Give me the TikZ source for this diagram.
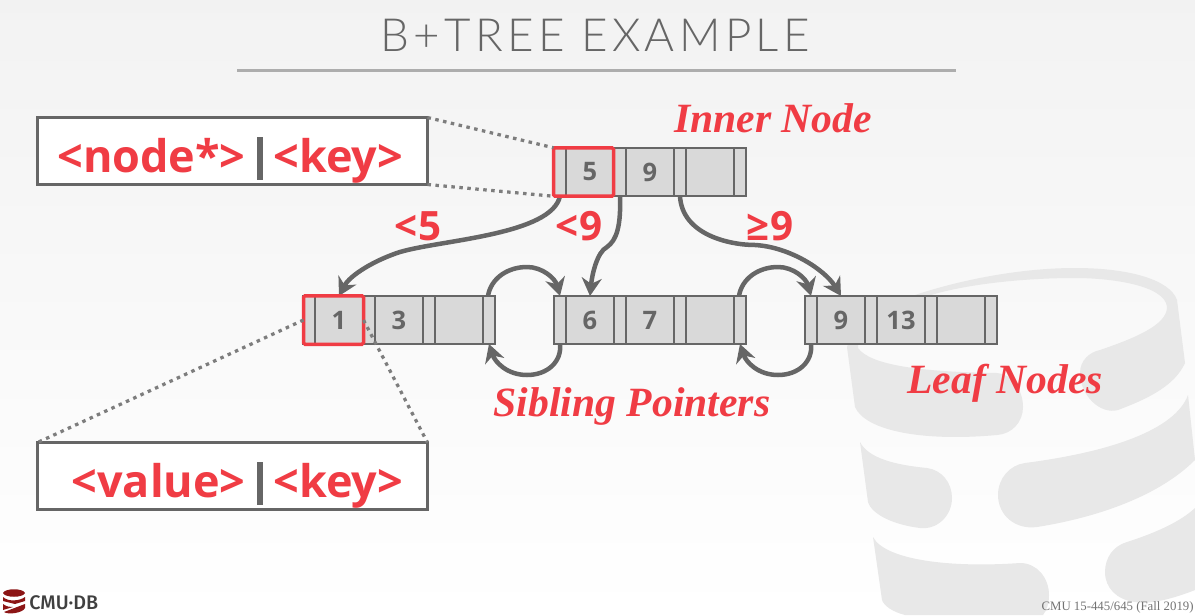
\documentclass[tikz,border=0pt]{standalone}
\usepackage{fontspec}
\usepackage{tikz}
\usetikzlibrary{positioning}
\usetikzlibrary{arrows.meta}
\setmainfont{Open Sans}
\newfontfamily\titlefont[LetterSpace=9.5]{Lato Light}
\newfontfamily\notefont{Liberation Serif}
\definecolor{slidered}{HTML}{F03C44}
\definecolor{slidegray}{HTML}{666666}
\definecolor{cellgray}{HTML}{D9D9D9}
\definecolor{markgray}{HTML}{E8E8E8}
\definecolor{logored}{HTML}{8C1515}

\tikzset{
    ptrcell/.style = {draw = slidegray, fill = cellgray, line width = 0.05cm, inner sep = 0pt, outer sep = 0pt,
        minimum width = 0.24cm, minimum height = 0.96cm},
    keycell/.style = {ptrcell, minimum width = 0.96cm, text = slidegray,
        font = \fontsize{14.5}{14.5}\selectfont\bfseries},
    redmark/.style = {draw = slidered, line width = 0.07cm, rounded corners = 0.03cm, inner sep = 0pt, outer sep = 0pt,
        minimum width = 1.2cm, minimum height = 0.97cm},
    entrybox/.style = {draw = slidegray, fill = white, line width = 0.065cm, inner sep = 0pt, outer sep = 0pt,
        minimum width = 7.8cm, minimum height = 1.34cm},
    entrytext/.style = {text = slidered, inner sep = 0pt, font = \fontsize{25.6}{25.6}\selectfont\bfseries},
    bartext/.style = {fill = slidegray, inner sep = 0pt, minimum width = 0.11cm, minimum height = 0.86cm},
    bound/.style = {text = slidered, inner sep = 0pt, font = \fontsize{23}{23}\selectfont\bfseries},
    note/.style = {text = slidered, inner sep = 0pt, font = \fontsize{23.7}{23.7}\selectfont\notefont\bfseries\itshape},
    pointer/.style = {draw = slidegray, line width = 0.09cm, -{Stealth[length = 0.36cm, width = 0.4cm]}},
    guide/.style = {draw = slidegray!85, line width = 0.065cm, dash pattern = on 0.07cm off 0.09cm},
    wmark/.style = {fill = markgray, draw = none},
}

% one tree node: four pointers and three key slots, chained left to right
\newcommand{\treenode}[5]{
    \node[ptrcell, anchor = west] (#1p1) at (#2,#3) {};
    \node[keycell, right = 0pt of #1p1] (#1k1) {#4};
    \node[ptrcell, right = 0pt of #1k1] (#1p2) {};
    \node[keycell, right = 0pt of #1p2] (#1k2) {#5};
    \node[ptrcell, right = 0pt of #1k2] (#1p3) {};
    \node[keycell, right = 0pt of #1p3] (#1k3) {};
    \node[ptrcell, right = 0pt of #1k3] (#1p4) {};
}

\begin{document}
\begin{tikzpicture}[x = 0.02cm, y = -0.02cm]
    \useasboundingbox (0,0) rectangle (1195,615);
    \fill[top color = black!5, bottom color = white] (0,0) rectangle (1195,615);

    % database drum behind the nodes
    \fill[wmark] (847,347) .. controls (860,310) and (900,300) .. (915,295)
        .. controls (960,280) and (1020,268) .. (1075,268)
        .. controls (1130,268) and (1170,280) .. (1177,300) -- (1185,363)
        .. controls (1175,385) and (1150,398) .. (1118,410)
        .. controls (1100,415) and (1080,395) .. (1080,373)
        .. controls (1080,360) and (1090,352) .. (1100,350)
        .. controls (1135,338) and (1167,325) .. (1167,307)
        .. controls (1165,285) and (1110,278) .. (1075,278)
        .. controls (1020,278) and (960,285) .. (925,297)
        .. controls (880,310) and (858,325) .. (858,348)
        .. controls (870,365) and (920,372) .. (997,373)
        .. controls (1012,374) and (1023,390) .. (1023,407)
        .. controls (1023,422) and (1012,434) .. (997,435)
        .. controls (920,442) and (865,430) .. (855,407) -- cycle;
    \fill[wmark] (860,442) .. controls (868,458) and (895,465) .. (927,468)
        .. controls (942,470) and (952,483) .. (952,498)
        .. controls (952,515) and (938,530) .. (920,528)
        .. controls (895,525) and (872,515) .. (868,502) -- cycle;
    \fill[wmark] (1025,463) .. controls (1110,452) and (1175,430) .. (1188,395) -- (1195,460)
        .. controls (1160,495) and (1100,517) .. (1037,527)
        .. controls (1015,530) and (998,515) .. (998,495)
        .. controls (998,478) and (1010,465) .. (1025,463) -- cycle;
    \fill[wmark] (873,537) .. controls (885,560) and (950,568) .. (1020,563)
        .. controls (1037,563) and (1049,578) .. (1049,595)
        .. controls (1049,603) and (1047,610) .. (1043,615)
        -- (905,615) .. controls (893,612) and (884,606) .. (882,600) -- cycle;
    \fill[wmark] (1127,542) .. controls (1155,533) and (1180,522) .. (1195,508) -- (1195,590)
        .. controls (1175,598) and (1150,605) .. (1135,602)
        .. controls (1117,600) and (1105,588) .. (1105,572)
        .. controls (1105,558) and (1113,546) .. (1127,542) -- cycle;

    % heading
    \node[text = slidegray, inner sep = 0pt, font = \fontsize{26}{26}\selectfont\titlefont] (heading) at (595,35) {B+TREE EXAMPLE};
    \coordinate (ruleleft) at (237,71);
    \coordinate (ruleright) at (956,71);
    \draw[black!32, line width = 0.06cm] (ruleleft) -- (ruleright);

    % inner node and leaves
    \treenode{inner}{554}{172}{5}{9}
    \treenode{leafa}{303}{320}{1}{3}
    \treenode{leafb}{554}{320}{6}{7}
    \treenode{leafc}{805}{320}{9}{13}

    % entry layouts
    \node[entrybox] (nodebox) at (232.5,151) {};
    \node[entrybox] (valuebox) at (232.5,476) {};
    \node[entrytext, anchor = base east] (nodetext) at (246,172) {<node*>};
    \node[bartext] (nodebar) at (260,158.5) {};
    \node[entrytext, anchor = base west] (nodekey) at (273,172) {<key>};
    \node[entrytext, anchor = base east] (valuetext) at (246,497) {<value>};
    \node[bartext] (valuebar) at (260,483.5) {};
    \node[entrytext, anchor = base west] (valuekey) at (273,497) {<key>};

    % child pointers
    \draw[pointer] (innerp1.south) .. controls (552,235) and (440,240) .. (400,252)
        .. controls (375,260) and (350,275) .. (leafak1.north);
    \draw[pointer] (innerp2.south) .. controls (621,225) and (617,240) .. (607,247)
        .. controls (597,252) and (592,275) .. (leafbk1.north);
    \draw[pointer] (innerp3.south) .. controls (682,235) and (730,245) .. (755,245)
        .. controls (790,247) and (825,270) .. (leafck1.north);

    % sibling pointers
    \draw[pointer] (leafap4.north west) ++(5,0) .. controls (491,278) and (508,267) .. (527,267)
        .. controls (542,267) and (555,278) .. (leafbp1.north);
    \draw[pointer] (leafbp1.south) .. controls (562,362) and (547,375) .. (527,375)
        .. controls (507,375) and (495,362) .. (leafap4.south);
    \draw[pointer] (leafbp4.north west) ++(5,0) .. controls (742,278) and (759,267) .. (778,267)
        .. controls (793,267) and (806,278) .. (leafcp1.north);
    \draw[pointer] (leafcp1.south) .. controls (813,362) and (798,375) .. (778,375)
        .. controls (758,375) and (746,362) .. (leafbp4.south);

    % highlighted entries and their guides
    \node[redmark] (innermark) at (583.5,172) {};
    \node[redmark] (leafmark) at (333.5,320) {};
    \draw[guide] (nodebox.north east) -- (innermark.north west);
    \draw[guide] (nodebox.south east) -- (innermark.south west);
    \draw[guide] (leafmark.west) -- (valuebox.north west);
    \draw[guide] (leafmark.east) -- (valuebox.north east);

    % labels
    \node[bound] (ltfive) at (418,226) {<5};
    \node[bound] (ltnine) at (579,226) {<9};
    \node[bound] (genine) at (770,226) {≥9};
    \node[note] (innerlabel) at (773,118) {Inner Node};
    \node[note] (leaflabel) at (1005,383) {Leaf Nodes};
    \node[note] (siblinglabel) at (632,406) {Sibling Pointers};

    % footer
    \node[text = black!55, inner sep = 0pt, anchor = east, font = \fontsize{7.3}{7.3}\selectfont\notefont] (course) at (1194,607) {CMU 15-445/645 (Fall 2019)};
    \fill[logored] (3,593) .. controls (5,588) and (23,588) .. (25,593) .. controls (23,598) and (5,598) .. (3,593) -- cycle;
    \fill[logored] (3,597) .. controls (8,602) and (20,601) .. (25,597) -- (25,601) -- (15,604) -- (3,601) -- cycle;
    \fill[logored] (3,604) .. controls (7,607) and (10,607) .. (13,607) -- (3,610) -- cycle;
    \fill[logored] (25,604) -- (25,608) .. controls (23,613) and (8,615) .. (4,612) -- cycle;
    \node[text = black!75, inner sep = 0pt, anchor = west, font = \fontsize{11.2}{11.2}\selectfont\fontspec{Fira Sans Medium}] (logotext) at (29,603) {CMU·DB};
\end{tikzpicture}
\end{document}
